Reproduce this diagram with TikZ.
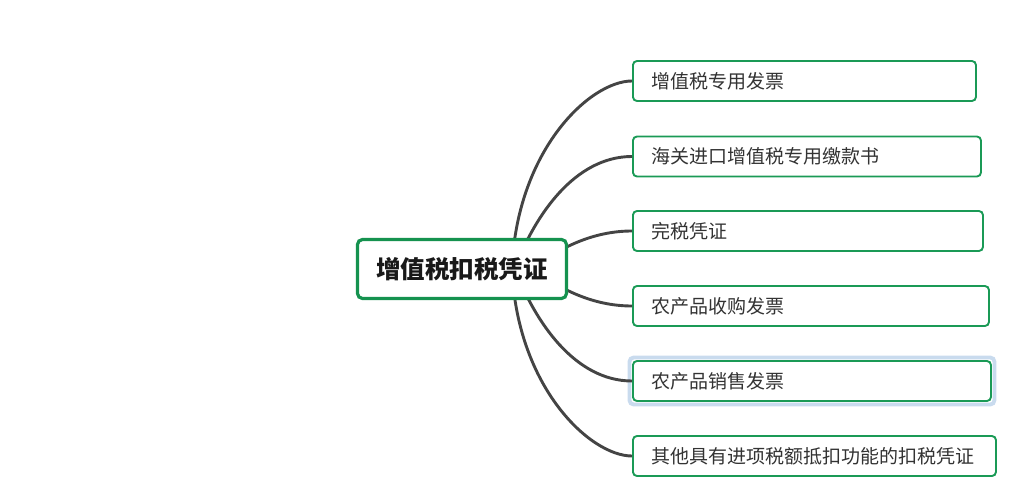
\documentclass[tikz,border=0pt]{standalone}
\usepackage{fontspec}
\newfontfamily\cjk{Noto Sans CJK SC}
\usetikzlibrary{fit}
\definecolor{mgreen}{HTML}{1A9A56}
\definecolor{cgreen}{HTML}{15924F}
\definecolor{linegray}{HTML}{444444}
\definecolor{txtgray}{HTML}{333333}
\definecolor{selblue}{HTML}{C9DBEE}
\tikzset{
  root/.style={draw=cgreen, line width=3.2pt, rounded corners=5pt, fill=white,
    minimum width=209pt, minimum height=59pt, inner sep=0pt,
    font=\cjk\bfseries\fontsize{24.5}{28}\selectfont, text=black!90},
  leaf/.style={draw=mgreen, line width=1.9pt, rounded corners=4pt, fill=white,
    anchor=west, minimum height=40pt, inner xsep=19pt, inner ysep=0pt, align=left,
    font=\cjk\fontsize{19}{22}\selectfont, text=txtgray},
  conn/.style={draw=linegray, line width=2.9pt},
  selframe/.style={draw=selblue, line width=3.8pt, rounded corners=4pt, inner sep=2.5pt}
}
\begin{document}
\begin{tikzpicture}[x=1pt,y=-1pt]
\useasboundingbox (0,0) rectangle (1027,497);
% hub points (hidden behind root)
\coordinate (h1) at (512,268);
\coordinate (h2) at (515,268);
\coordinate (h3) at (540,262);
\coordinate (h4) at (540,275);
\coordinate (h5) at (515,269);
\coordinate (h6) at (512,269);
% leaves
\node[leaf, text width=305pt] (b1) at (632,81) {增值税专用发票};
\node[leaf, text width=310pt] (b2) at (632,156.5) {海关进口增值税专用缴款书};
\node[leaf, text width=312pt] (b3) at (632,231) {完税凭证};
\node[leaf, text width=318pt] (b4) at (632,306) {农产品收购发票};
\node[leaf, text width=320pt] (b5) at (632,381) {农产品销售发票};
\node[leaf, text width=325pt] (b6) at (632,456) {其他具有进项税额抵扣功能的扣税凭证};
\node[selframe, fit=(b5)] (sel) {};
% connectors
\draw[conn] (h1) .. controls (517,150) and (590,81) .. (b1.west);
\draw[conn] (h2) .. controls (535,215) and (575,156.5) .. (b2.west);
\draw[conn] (h3) .. controls (560,250) and (590,231) .. (b3.west);
\draw[conn] (h4) .. controls (560,287) and (590,306) .. (b4.west);
\draw[conn] (h5) .. controls (535,322) and (575,381) .. (b5.west);
\draw[conn] (h6) .. controls (517,387) and (590,456) .. (b6.west);
% root
\node[root] (root) at (462,269) {增值税扣税凭证};
\end{tikzpicture}
\end{document}
